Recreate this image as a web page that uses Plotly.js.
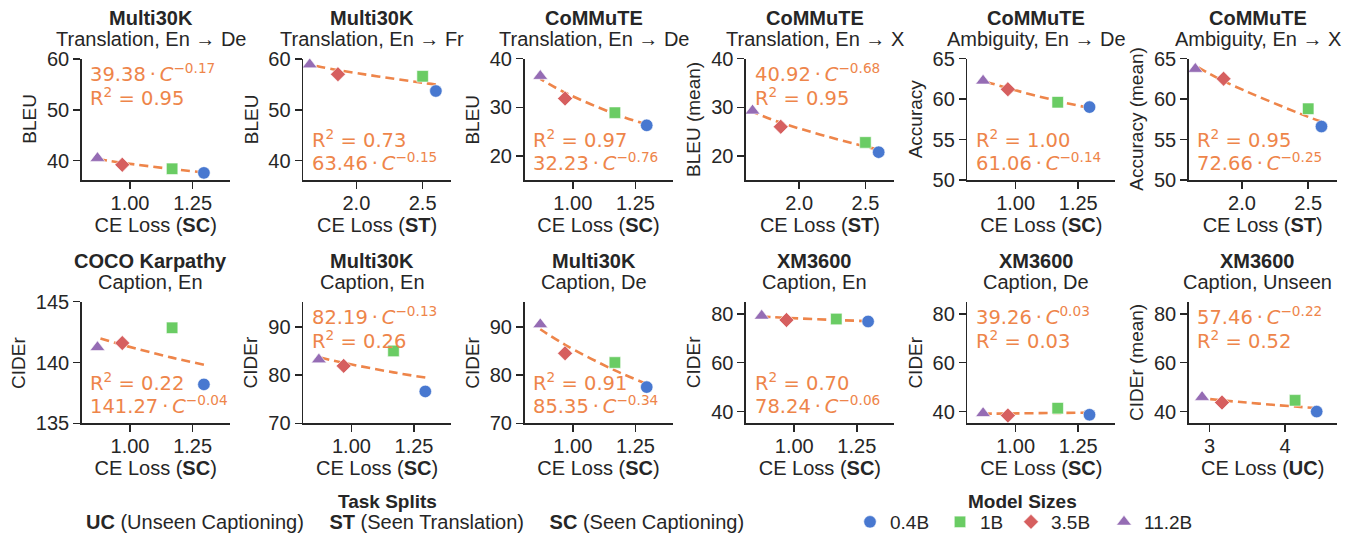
<!DOCTYPE html>
<html><head><meta charset="utf-8">
<script src="https://cdn.plot.ly/plotly-3.0.1.min.js"></script>
<style>html,body{margin:0;padding:0;background:#fff}</style>
</head><body><div id="chart" style="width:1353px;height:535px"></div>
<script>
// ---------- data ----------
const modelSizes = ['0.4B', '1B', '3.5B', '11.2B'];
const lossSC = [1.295, 1.168, 0.969, 0.870];
const lossST = [2.60, 2.50, 1.861, 1.648];
const lossUC = [4.418, 4.132, 3.164, 2.90];

const panelDataset = ['Multi30K', 'Multi30K', 'CoMMuTE', 'CoMMuTE', 'CoMMuTE', 'CoMMuTE',
  'COCO Karpathy', 'Multi30K', 'Multi30K', 'XM3600', 'XM3600', 'XM3600'];
const panelTask = ['Translation, En \u2192 De', 'Translation, En \u2192 Fr', 'Translation, En \u2192 De',
  'Translation, En \u2192 X', 'Ambiguity, En \u2192 De', 'Ambiguity, En \u2192 X',
  'Caption, En', 'Caption, En', 'Caption, De', 'Caption, En', 'Caption, De', 'Caption, Unseen'];
const panelMetric = ['BLEU', 'BLEU', 'BLEU', 'BLEU (mean)', 'Accuracy', 'Accuracy (mean)',
  'CIDEr', 'CIDEr', 'CIDEr', 'CIDEr', 'CIDEr', 'CIDEr (mean)'];
const panelSplit = ['SC', 'ST', 'SC', 'ST', 'SC', 'ST', 'SC', 'SC', 'SC', 'SC', 'SC', 'UC'];

// scores per panel, ordered as modelSizes
const score1 = [37.6, 38.4, 39.2, 40.5];
const score2 = [53.7, 56.6, 57.0, 58.9];
const score3 = [26.3, 28.9, 31.8, 36.4];
const score4 = [20.8, 22.8, 26.0, 29.3];
const score5 = [59.0, 59.6, 61.2, 62.25];
const score6 = [56.6, 58.8, 62.5, 63.7];
const score7 = [138.2, 142.85, 141.6, 141.25];
const score8 = [76.6, 85.0, 81.9, 83.2];
const score9 = [77.5, 82.6, 84.5, 90.5];
const score10 = [76.9, 77.9, 77.5, 79.2];
const score11 = [38.7, 41.4, 38.4, 39.3];
const score12 = [40.0, 44.6, 43.7, 45.9];
const scores = [score1, score2, score3, score4, score5, score6, score7, score8, score9, score10, score11, score12];

// fitted power-law values at each model's loss
const fit1 = [37.69, 38.36, 39.59, 40.33];
const fit2 = [54.99, 55.31, 57.81, 58.89];
const fit3 = [26.48, 28.64, 33.0, 35.83];
const fit4 = [21.37, 21.94, 26.83, 29.08];
const fit5 = [58.89, 59.75, 61.33, 62.26];
const fit6 = [57.22, 57.79, 62.21, 64.12];
const fit7 = [139.82, 140.40, 141.45, 142.06];
const fit8 = [79.48, 80.55, 82.53, 83.69];
const fit9 = [78.17, 80.96, 86.27, 89.49];
const fit10 = [77.03, 77.51, 78.39, 78.9];
const fit11 = [39.57, 39.44, 39.22, 39.10];
const fit12 = [41.44, 42.06, 44.60, 45.46];
const fits = [fit1, fit2, fit3, fit4, fit5, fit6, fit7, fit8, fit9, fit10, fit11, fit12];

// fit labels
const fitCoef = [39.38, 63.46, 32.23, 40.92, 61.06, 72.66, 141.27, 82.19, 85.35, 78.24, 39.26, 57.46];
const fitExp = [-0.17, -0.15, -0.76, -0.68, -0.14, -0.25, -0.04, -0.13, -0.34, -0.06, 0.03, -0.22];
const fitR2 = [0.95, 0.73, 0.97, 0.95, 1.00, 0.95, 0.22, 0.26, 0.91, 0.70, 0.03, 0.52];
const labelPlace = ['top', 'bottom', 'bottom', 'top', 'bottom', 'bottom', 'bottom', 'top', 'bottom', 'bottom', 'top', 'top'];

// axis ticks / ranges
const yTicks = [[40, 50, 60], [40, 50, 60], [20, 30, 40], [20, 30, 40], [50, 55, 60, 65], [50, 55, 60, 65],
  [135, 140, 145], [70, 80, 90], [70, 80, 90], [40, 60, 80], [40, 60, 80], [40, 60, 80]];
const yRanges = [[36.2, 60.1], [36.2, 60.1], [15.1, 40], [15.1, 40], [50, 65], [50, 65],
  [135, 145], [70, 95.2], [70, 95.2], [35.2, 85], [35.2, 85], [35.2, 85]];
const xTicksBySplit = {SC: [1.0, 1.25], ST: [2.0, 2.5], UC: [3, 4]};
const xFmtBySplit = {SC: '.2f', ST: '.1f', UC: 'd'};
const xRangeBySplit = {SC: [0.807, 1.398], ST: [1.598, 2.715], UC: [2.723, 4.683]};
const lossBySplit = {SC: lossSC, ST: lossST, UC: lossUC};

const taskSplitKeys = ['UC', 'ST', 'SC'];
const taskSplitNames = ['Unseen Captioning', 'Seen Translation', 'Seen Captioning'];

// ---------- styling ----------
const W = 1353, H = 535;
const colors = ['#4878D0', '#6ACC64', '#D65F5F', '#956CB4'];
const symbols = ['circle', 'square', 'diamond', 'triangle-up'];
const msizes = [12.5, 11.5, 11.5, 13];
const legendWidths = [45, 26, 48, 50];
const fitColor = '#EE854A';
const ink = '#262626';
const FONT = 'Liberation Sans, Arial, sans-serif';
const px2x = p => p / W;
const py2y = p => 1 - p / H;

const colLeft = c => 81.7 + c * 221.4;
const axW = 148;
const rowTop = [58.5, 301.7], rowBot = [180, 423.3];

const traces = [];
const layout = {
  width: W, height: H, margin: {l: 0, r: 0, t: 0, b: 0, autoexpand: false},
  paper_bgcolor: '#fff', plot_bgcolor: '#fff',
  font: {family: FONT, color: ink, size: 20},
  showlegend: true,
  annotations: [],
  legend: {
    orientation: 'h', x: px2x(850), xanchor: 'left', y: py2y(522), yanchor: 'middle',
    font: {family: FONT, size: 19, color: ink},
    bgcolor: 'rgba(0,0,0,0)', itemwidth: 30
  }
};

for (let i = 0; i < 12; i++) {
  const k = i + 1;
  const col = i % 6, row = Math.floor(i / 6);
  const L = colLeft(col), R = L + axW;
  const split = panelSplit[i];
  const xs = lossBySplit[split];
  const xa = 'x' + k, ya = 'y' + k;

  layout['xaxis' + k] = {
    domain: [px2x(L), px2x(R)], anchor: ya, range: xRangeBySplit[split],
    tickvals: xTicksBySplit[split], tickformat: xFmtBySplit[split],
    showline: true, linecolor: ink, linewidth: 1.5, mirror: false,
    ticks: 'outside', ticklen: 7, tickwidth: 1.5, tickcolor: ink, ticklabelstandoff: -3,
    showgrid: false, zeroline: false, automargin: false,
    tickfont: {family: FONT, size: 20, color: ink},
    title: {text: 'CE Loss (<b>' + split + '</b>)', font: {family: FONT, size: 20, color: ink}, standoff: 4}
  };
  layout['yaxis' + k] = {
    domain: [py2y(rowBot[row]), py2y(rowTop[row])], anchor: xa, range: yRanges[i],
    tickvals: yTicks[i],
    showline: true, linecolor: ink, linewidth: 1.5,
    ticks: 'outside', ticklen: 7, tickwidth: 1.5, tickcolor: ink,
    showgrid: false, zeroline: false, automargin: false,
    tickfont: {family: FONT, size: 20, color: ink}
  };

  // y-axis title (placed as rotated text left of the tick labels)
  const digits = String(Math.max(...yTicks[i])).length;
  layout.annotations.push({
    xref: 'paper', yref: ya + ' domain', x: px2x(L - (30 + 11.1 * digits)), y: 0.5,
    xanchor: 'center', yanchor: 'middle', textangle: -90,
    text: panelMetric[i], showarrow: false, font: {family: FONT, size: 19, color: ink}
  });

  // fit line
  traces.push({
    type: 'scatter', mode: 'lines', x: xs, y: fits[i], xaxis: xa, yaxis: ya,
    line: {color: fitColor, width: 2.6, dash: '9px,5px', shape: 'spline'},
    showlegend: false, hoverinfo: 'skip'
  });
  // markers
  for (let j = 0; j < 4; j++) {
    traces.push({
      type: 'scatter', mode: 'markers', x: [xs[j]], y: [scores[i][j]], xaxis: xa, yaxis: ya,
      name: modelSizes[j], legendgroup: modelSizes[j], showlegend: i === 0, legendwidth: legendWidths[j],
      marker: {color: colors[j], symbol: symbols[j], size: msizes[j], line: {color: '#fff', width: 0.6}}
    });
  }

  // titles
  const cx = px2x((L + R) / 2 - 5);
  const tTop = rowTop[row];
  layout.annotations.push({
    xref: 'paper', yref: 'paper', x: cx, y: py2y(tTop - 40.5), xanchor: 'center', yanchor: 'middle',
    text: '<b>' + panelDataset[i] + '</b>', showarrow: false, font: {family: FONT, size: 20, color: ink}
  });
  layout.annotations.push({
    xref: 'paper', yref: 'paper', x: cx, y: py2y(tTop - 19.5), xanchor: 'center', yanchor: 'middle',
    text: panelTask[i], showarrow: false, font: {family: FONT, size: 20, color: ink}
  });

  // fit labels
  const e = fitExp[i];
  const eStr = (e < 0 ? '\u2212' : '') + Math.abs(e).toFixed(2);
  const fitTxt = fitCoef[i].toFixed(2) + '\u2009\u00B7\u2009<i>C</i><sup>' + eStr + '</sup>';
  const r2Txt = 'R<sup>2</sup> = ' + fitR2[i].toFixed(2);
  const hgt = rowBot[row] - rowTop[row];
  let lines, ys;
  if (labelPlace[i] === 'top') { lines = [fitTxt, r2Txt]; ys = [1 - 14.5 / hgt, 1 - 38 / hgt]; }
  else { lines = [r2Txt, fitTxt]; ys = [41.5 / hgt, 18 / hgt]; }
  for (let m = 0; m < 2; m++) {
    layout.annotations.push({
      xref: xa + ' domain', yref: ya + ' domain', x: 0.045, y: ys[m], xanchor: 'left', yanchor: 'middle',
      text: lines[m], showarrow: false, font: {family: 'DejaVu Sans, sans-serif', size: 19.5, color: fitColor}
    });
  }
}

// task splits legend (text only)
layout.annotations.push({
  xref: 'paper', yref: 'paper', x: px2x(387), y: py2y(501), xanchor: 'center', yanchor: 'middle',
  text: '<b>Task Splits</b>', showarrow: false, font: {family: FONT, size: 19, color: ink}
});
const splitTxt = taskSplitKeys.map((s, q) => '<b>' + s + '</b> (' + taskSplitNames[q] + ')').join('\u2003 ');
layout.annotations.push({
  xref: 'paper', yref: 'paper', x: px2x(415), y: py2y(522), xanchor: 'center', yanchor: 'middle',
  text: splitTxt, showarrow: false, font: {family: FONT, size: 20, color: ink}
});
// model sizes legend title
layout.annotations.push({
  xref: 'paper', yref: 'paper', x: px2x(1022), y: py2y(501), xanchor: 'center', yanchor: 'middle',
  text: '<b>Model Sizes</b>', showarrow: false, font: {family: FONT, size: 19, color: ink}
});

Plotly.newPlot('chart', traces, layout, {displayModeBar: false, staticPlot: true});
</script></body></html>
